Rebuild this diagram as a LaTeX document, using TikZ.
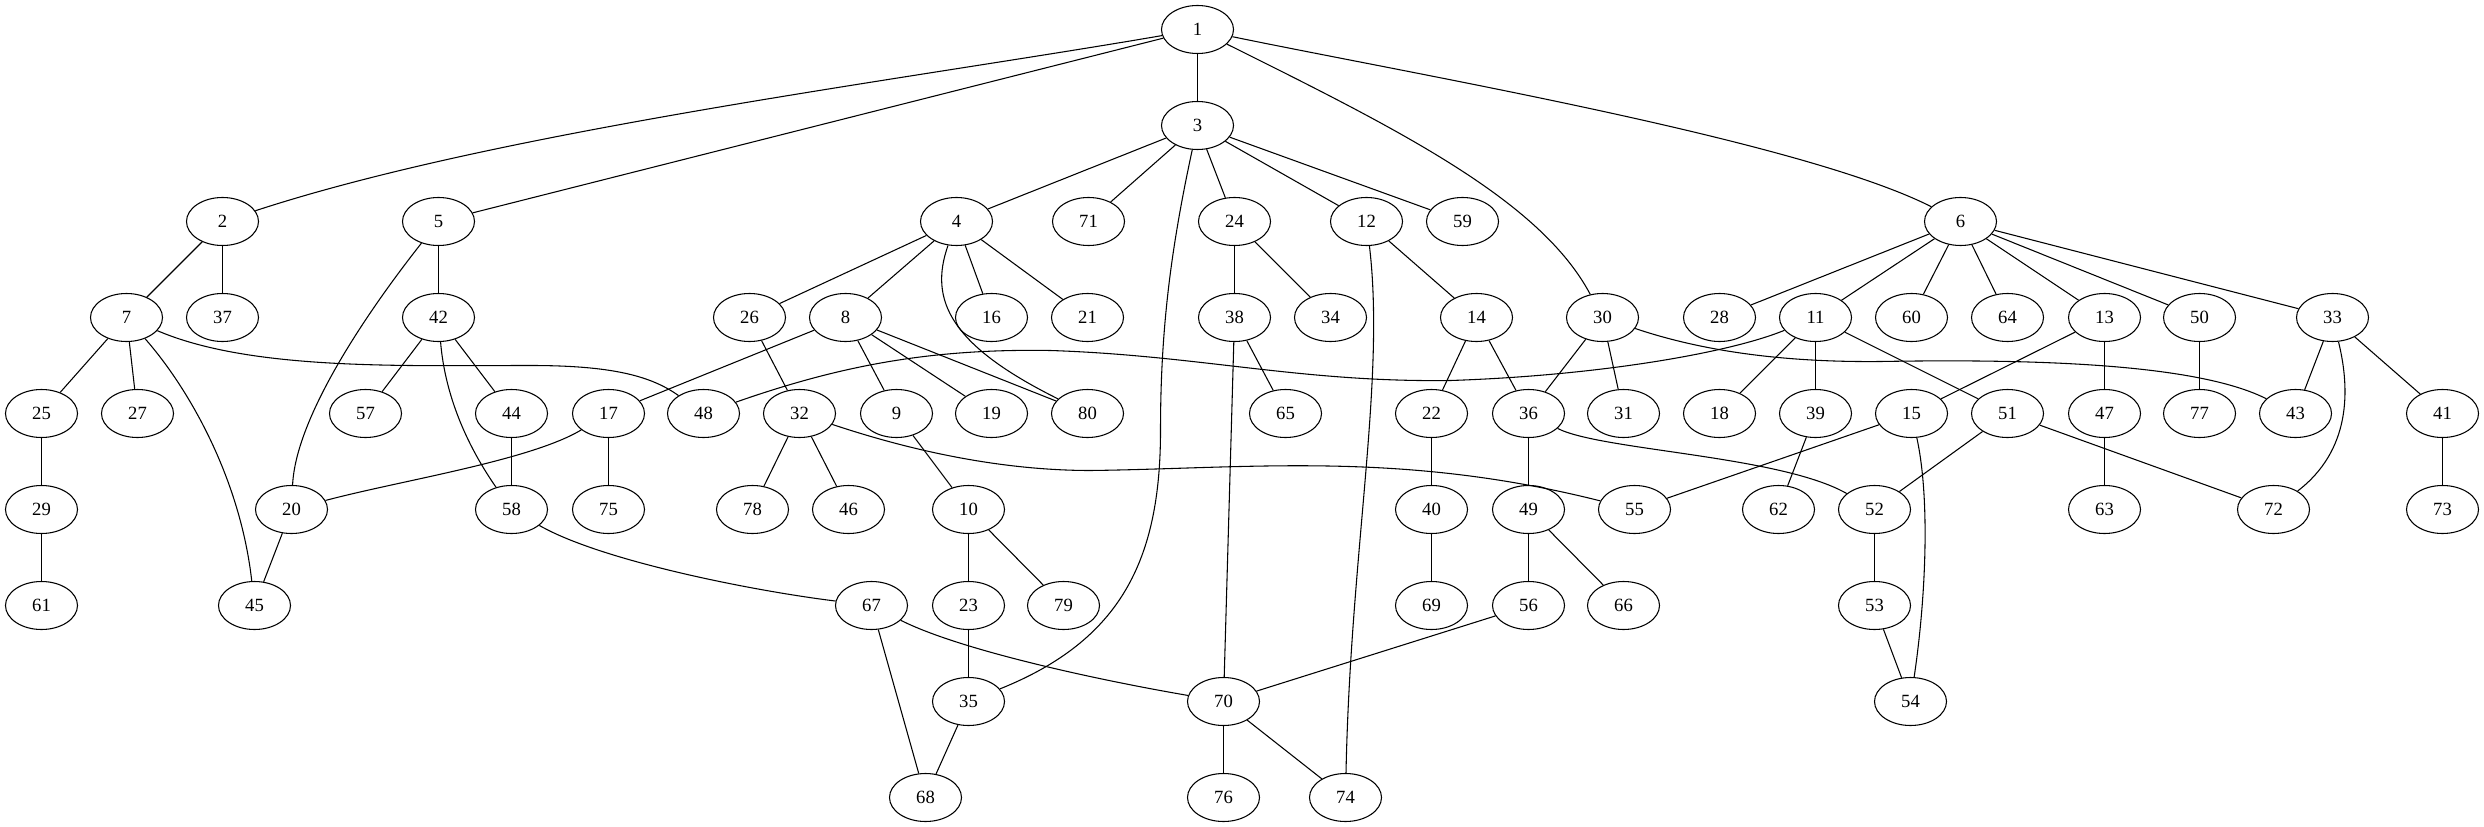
\documentclass[tikz,border=0pt]{standalone}
\usepackage{fontspec}
\setmainfont{Liberation Serif}
\usepackage{tikz}
\usetikzlibrary{shapes.geometric}
\tikzstyle{vertex} = [ellipse,draw,line width=0.8pt,minimum width=54pt,minimum height=36pt,inner sep=0pt,font=\fontsize{14}{16}\selectfont]
\tikzstyle{edge} = [line width=0.8pt]

\begin{document}
\begin{tikzpicture}[x=0.75pt,y=-0.75pt]
\useasboundingbox (-0.5,-0.5) rectangle (2483.5,826.5);
% row 0 and 1
\node[vertex] (n1) at (1197,29) {1};
\node[vertex] (n3) at (1197,125) {3};
% row 2
\node[vertex] (n2) at (222,221) {2};
\node[vertex] (n5) at (438,221) {5};
\node[vertex] (n4) at (956,221) {4};
\node[vertex] (n71) at (1088,221) {71};
\node[vertex] (n24) at (1234,221) {24};
\node[vertex] (n12) at (1366,221) {12};
\node[vertex] (n59) at (1462,221) {59};
\node[vertex] (n6) at (1960,221) {6};
% row 3
\node[vertex] (n7) at (126,317) {7};
\node[vertex] (n37) at (222,317) {37};
\node[vertex] (n42) at (438,317) {42};
\node[vertex] (n26) at (749,317) {26};
\node[vertex] (n8) at (845,317) {8};
\node[vertex] (n16) at (991,317) {16};
\node[vertex] (n21) at (1087,317) {21};
\node[vertex] (n38) at (1234,317) {38};
\node[vertex] (n34) at (1330,317) {34};
\node[vertex] (n14) at (1476,317) {14};
\node[vertex] (n30) at (1602,317) {30};
\node[vertex] (n28) at (1719,317) {28};
\node[vertex] (n11) at (1815,317) {11};
\node[vertex] (n60) at (1911,317) {60};
\node[vertex] (n64) at (2007,317) {64};
\node[vertex] (n13) at (2104,317) {13};
\node[vertex] (n50) at (2199,317) {50};
\node[vertex] (n33) at (2332,317) {33};
% row 4
\node[vertex] (n25) at (41,413) {25};
\node[vertex] (n27) at (137,413) {27};
\node[vertex] (n57) at (365,413) {57};
\node[vertex] (n44) at (511,413) {44};
\node[vertex] (n17) at (608,413) {17};
\node[vertex] (n48) at (703,413) {48};
\node[vertex] (n32) at (799,413) {32};
\node[vertex] (n9) at (896,413) {9};
\node[vertex] (n19) at (991,413) {19};
\node[vertex] (n80) at (1087,413) {80};
\node[vertex] (n65) at (1285,413) {65};
\node[vertex] (n22) at (1431,413) {22};
\node[vertex] (n36) at (1528,413) {36};
\node[vertex] (n31) at (1623,413) {31};
\node[vertex] (n18) at (1719,413) {18};
\node[vertex] (n39) at (1815,413) {39};
\node[vertex] (n15) at (1911,413) {15};
\node[vertex] (n51) at (2007,413) {51};
\node[vertex] (n47) at (2104,413) {47};
\node[vertex] (n77) at (2199,413) {77};
\node[vertex] (n43) at (2295,413) {43};
\node[vertex] (n41) at (2442,413) {41};
% row 5
\node[vertex] (n29) at (41,509) {29};
\node[vertex] (n20) at (291,509) {20};
\node[vertex] (n58) at (511,509) {58};
\node[vertex] (n75) at (608,509) {75};
\node[vertex] (n78) at (752,509) {78};
\node[vertex] (n46) at (848,509) {46};
\node[vertex] (n10) at (968,509) {10};
\node[vertex] (n40) at (1431,509) {40};
\node[vertex] (n49) at (1528,509) {49};
\node[vertex] (n55) at (1634,509) {55};
\node[vertex] (n62) at (1778,509) {62};
\node[vertex] (n52) at (1874,509) {52};
\node[vertex] (n63) at (2104,509) {63};
\node[vertex] (n72) at (2273,509) {72};
\node[vertex] (n73) at (2442,509) {73};
% row 6
\node[vertex] (n61) at (41,605) {61};
\node[vertex] (n45) at (254,605) {45};
\node[vertex] (n67) at (871,605) {67};
\node[vertex] (n23) at (968,605) {23};
\node[vertex] (n79) at (1063,605) {79};
\node[vertex] (n69) at (1431,605) {69};
\node[vertex] (n56) at (1528,605) {56};
\node[vertex] (n66) at (1623,605) {66};
\node[vertex] (n53) at (1874,605) {53};
% row 7 and 8
\node[vertex] (n35) at (968,701) {35};
\node[vertex] (n70) at (1223,701) {70};
\node[vertex] (n54) at (1910,701) {54};
\node[vertex] (n68) at (925,797) {68};
\node[vertex] (n76) at (1223,797) {76};
\node[vertex] (n74) at (1345,797) {74};
% edges from 1
\draw[edge] (n1) .. controls (900,80) and (500,130) .. (n2);
\draw[edge] (n1) -- (n5);
\draw[edge] (n1) -- (n3);
\draw[edge] (n1) .. controls (1400,130) and (1540,200) .. (n30);
\draw[edge] (n1) .. controls (1420,75) and (1800,140) .. (n6);
% edges from 3
\draw[edge] (n3) -- (n4);
\draw[edge] (n3) -- (n71);
\draw[edge] (n3) -- (n24);
\draw[edge] (n3) -- (n12);
\draw[edge] (n3) -- (n59);
\draw[edge] (n3) .. controls (1170,250) and (1160,330) .. (1160,430) .. controls (1160,560) and (1120,640) .. (n35);
% left part
\draw[edge] (n2) -- (n7);
\draw[edge] (n2) -- (n37);
\draw[edge] (n5) -- (n42);
\draw[edge] (n5) .. controls (360,320) and (295,420) .. (n20);
\draw[edge] (n7) -- (n25);
\draw[edge] (n7) -- (n27);
\draw[edge] (n7) .. controls (190,390) and (240,480) .. (n45);
\draw[edge] (n7) .. controls (250,370) and (400,365) .. (530,365) .. controls (610,365) and (650,375) .. (n48);
\draw[edge] (n42) -- (n57);
\draw[edge] (n42) -- (n44);
\draw[edge] (n42) .. controls (445,400) and (470,450) .. (n58);
\draw[edge] (n25) -- (n29);
\draw[edge] (n29) -- (n61);
\draw[edge] (n44) -- (n58);
\draw[edge] (n17) .. controls (530,460) and (400,480) .. (n20);
\draw[edge] (n17) -- (n75);
\draw[edge] (n20) -- (n45);
\draw[edge] (n58) .. controls (600,560) and (750,590) .. (n67);
% edges from 4
\draw[edge] (n4) -- (n26);
\draw[edge] (n4) -- (n8);
\draw[edge] (n4) .. controls (928,300) and (950,345) .. (n80);
\draw[edge] (n4) -- (n16);
\draw[edge] (n4) -- (n21);
\draw[edge] (n26) -- (n32);
\draw[edge] (n8) -- (n17);
\draw[edge] (n8) -- (n9);
\draw[edge] (n8) -- (n19);
\draw[edge] (n8) -- (n80);
\draw[edge] (n32) -- (n78);
\draw[edge] (n32) -- (n46);
\draw[edge] (n32) .. controls (880,440) and (980,470) .. (1090,470) .. controls (1250,468) and (1400,450) .. (n55);
\draw[edge] (n9) -- (n10);
\draw[edge] (n10) -- (n23);
\draw[edge] (n10) -- (n79);
\draw[edge] (n23) -- (n35);
\draw[edge] (n35) -- (n68);
\draw[edge] (n67) -- (n68);
\draw[edge] (n67) .. controls (960,650) and (1100,680) .. (n70);
% middle part
\draw[edge] (n24) -- (n38);
\draw[edge] (n24) -- (n34);
\draw[edge] (n38) -- (n65);
\draw[edge] (n38) -- (n70);
\draw[edge] (n12) -- (n14);
\draw[edge] (n12) .. controls (1385,380) and (1350,550) .. (n74);
\draw[edge] (n14) -- (n22);
\draw[edge] (n14) -- (n36);
\draw[edge] (n22) -- (n40);
\draw[edge] (n40) -- (n69);
\draw[edge] (n30) -- (n36);
\draw[edge] (n30) -- (n31);
\draw[edge] (n30) .. controls (1700,350) and (1780,362) .. (1880,361) .. controls (2050,358) and (2200,365) .. (n43);
\draw[edge] (n36) -- (n49);
\draw[edge] (n36) .. controls (1600,450) and (1780,455) .. (n52);
\draw[edge] (n49) -- (n56);
\draw[edge] (n49) -- (n66);
\draw[edge] (n56) -- (n70);
\draw[edge] (n70) -- (n76);
\draw[edge] (n70) -- (n74);
% edges from 6
\draw[edge] (n6) -- (n28);
\draw[edge] (n6) -- (n11);
\draw[edge] (n6) -- (n60);
\draw[edge] (n6) -- (n64);
\draw[edge] (n6) -- (n13);
\draw[edge] (n6) -- (n50);
\draw[edge] (n6) -- (n33);
\draw[edge] (n11) .. controls (1730,352) and (1600,375) .. (1450,380) .. controls (1300,382) and (1200,355) .. (1050,350) .. controls (930,348) and (840,365) .. (n48);
\draw[edge] (n11) -- (n18);
\draw[edge] (n11) -- (n39);
\draw[edge] (n11) -- (n51);
\draw[edge] (n39) -- (n62);
\draw[edge] (n13) -- (n15);
\draw[edge] (n13) -- (n47);
\draw[edge] (n15) -- (n55);
\draw[edge] (n15) .. controls (1930,500) and (1925,600) .. (n54);
\draw[edge] (n51) -- (n52);
\draw[edge] (n51) -- (n72);
\draw[edge] (n52) -- (n53);
\draw[edge] (n53) -- (n54);
\draw[edge] (n47) -- (n63);
\draw[edge] (n50) -- (n77);
\draw[edge] (n33) -- (n43);
\draw[edge] (n33) -- (n41);
\draw[edge] (n33) .. controls (2350,390) and (2350,450) .. (n72);
\draw[edge] (n41) -- (n73);
\end{tikzpicture}
\end{document}
